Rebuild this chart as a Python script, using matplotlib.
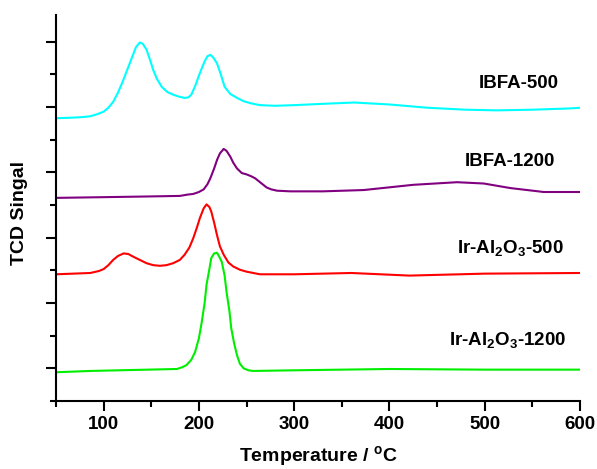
import numpy as np
import matplotlib.pyplot as plt
from matplotlib.ticker import MultipleLocator

plt.rcParams['font.family'] = ['Liberation Sans', 'DejaVu Sans']
plt.rcParams['font.weight'] = 'bold'

# TPR traces (temperature in C, signal in offset units)
t_ibfa500 = [50, 70, 80, 86, 93, 100, 105, 110, 115, 120, 125, 130, 134, 138, 141,
             145, 149, 152, 156, 161, 167, 173, 179, 185, 189, 192, 196, 201, 206,
             209, 212, 215, 219, 223, 227, 233, 240, 247, 254, 264, 280, 300, 330,
             363, 400, 440, 480, 513, 550, 590, 600]
s_ibfa500 = [4.33, 4.34, 4.35, 4.36, 4.39, 4.43, 4.49, 4.58, 4.72, 4.89, 5.08,
             5.27, 5.42, 5.49, 5.47, 5.38, 5.21, 5.07, 4.93, 4.81, 4.73, 4.69,
             4.66, 4.64, 4.65, 4.69, 4.82, 5.02, 5.20, 5.28, 5.30, 5.26, 5.17,
             5.00, 4.81, 4.70, 4.64, 4.59, 4.56, 4.53, 4.52, 4.53, 4.55, 4.57,
             4.54, 4.49, 4.46, 4.45, 4.46, 4.48, 4.49]

t_ibfa1200 = [50, 96, 140, 180, 188, 194, 200, 205, 209, 212, 216, 219, 222, 226,
              229, 233, 236, 240, 245, 250, 255, 259, 265, 271, 276, 282, 296, 330,
              373, 425, 471, 499, 527, 562, 600]
s_ibfa1200 = [3.11, 3.12, 3.13, 3.14, 3.16, 3.17, 3.20, 3.24, 3.32, 3.41, 3.56,
              3.69, 3.79, 3.86, 3.83, 3.74, 3.65, 3.56, 3.49, 3.47, 3.44, 3.41,
              3.34, 3.27, 3.24, 3.22, 3.21, 3.21, 3.23, 3.31, 3.35, 3.33, 3.26,
              3.20, 3.20]

t_ir500 = [50, 86, 95, 100, 105, 110, 115, 121, 126, 131, 138, 145, 152, 159, 166,
           173, 180, 185, 190, 194, 198, 201, 205, 208, 211, 213, 216, 219, 222,
           226, 231, 236, 243, 250, 264, 300, 360, 421, 500, 600]
s_ir500 = [1.94, 1.96, 1.99, 2.02, 2.08, 2.16, 2.22, 2.26, 2.25, 2.21, 2.16, 2.11,
           2.08, 2.07, 2.08, 2.11, 2.16, 2.24, 2.35, 2.49, 2.66, 2.80, 2.95, 3.01,
           2.97, 2.90, 2.73, 2.54, 2.37, 2.24, 2.12, 2.06, 2.01, 1.98, 1.94, 1.94,
           1.96, 1.92, 1.95, 1.96]

t_ir1200 = [50, 86, 177, 183, 187, 192, 196, 200, 203, 206, 208, 211, 213, 216,
            219, 221, 224, 227, 229, 232, 234, 237, 240, 243, 247, 252, 257, 300,
            400, 500, 600]
s_ir1200 = [0.44, 0.46, 0.49, 0.52, 0.55, 0.63, 0.75, 0.96, 1.21, 1.50, 1.78,
            2.02, 2.19, 2.26, 2.27, 2.22, 2.13, 1.92, 1.67, 1.38, 1.11, 0.88,
            0.70, 0.57, 0.50, 0.47, 0.46, 0.47, 0.49, 0.48, 0.48]

labels = ['IBFA-500', 'IBFA-1200', 'Ir-Al$\\mathregular{_2}$O$\\mathregular{_3}$-500',
          'Ir-Al$\\mathregular{_2}$O$\\mathregular{_3}$-1200']
label_x = [578, 574, 583, 586]
label_y = [4.80, 3.60, 2.26, 0.86]
colors = ['#00ffff', '#800080', '#ff0000', '#00ee00']

xticks = [100, 200, 300, 400, 500, 600]
xticklabels = ['100', '200', '300', '400', '500', '600']

fig = plt.figure(figsize=(5.97, 4.69), dpi=100)
ax = fig.add_axes([0.0938, 0.145, 0.8777, 0.823])

traces = [(t_ibfa500, s_ibfa500), (t_ibfa1200, s_ibfa1200),
          (t_ir500, s_ir500), (t_ir1200, s_ir1200)]
for (t, s), c in zip(traces, colors):
    ax.plot(t, s, color=c, lw=1.5, solid_joinstyle='round')

for lab, x, y in zip(labels, label_x, label_y):
    ax.text(x, y, lab, ha='right', va='baseline', fontsize=13.5, fontweight='bold')

ax.set_xlim(50, 600)
ax.set_ylim(0, 5.91)
ax.set_xticks(xticks)
ax.set_xticklabels(xticklabels, fontsize=13.5, fontweight='bold')
ax.xaxis.set_minor_locator(MultipleLocator(50))
ax.set_yticks(np.arange(0.5, 5.6, 1.0))
ax.set_yticks(np.arange(0, 5.1, 1.0), minor=True)
ax.set_yticklabels([])

for side in ['top', 'right']:
    ax.spines[side].set_visible(False)
for side in ['left', 'bottom']:
    ax.spines[side].set_linewidth(1.5)
ax.tick_params(which='major', length=7, width=1.5)
ax.tick_params(which='minor', length=4, width=1.5)

ax.set_xlabel('Temperature / $\\mathregular{^o}$C', fontsize=14, fontweight='bold')
ax.set_ylabel('TCD Singal', fontsize=14, fontweight='bold')
ax.xaxis.label.set_va('center')
ax.xaxis.set_label_coords((318 - 56) / 524, -0.143)
ax.yaxis.label.set_va('center')
ax.yaxis.set_label_coords(-0.069, 0.487)

fig.savefig('out.png', dpi=100)
